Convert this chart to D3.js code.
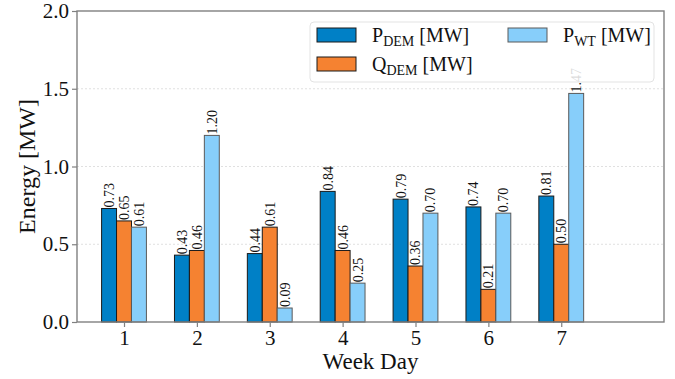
<!DOCTYPE html>
<html>
<head>
<meta charset="utf-8">
<script src="https://cdn.jsdelivr.net/npm/d3@7"></script>
<style>
  body { margin: 0; background: #fff; }
  svg { display: block; font-family: "Liberation Serif", "Times New Roman", serif; }
</style>
</head>
<body>
<svg id="chart" width="675" height="379"></svg>
<script>
// Daily energy per week day
const days = [1, 2, 3, 4, 5, 6, 7];
const pDem = [0.73, 0.43, 0.44, 0.84, 0.79, 0.74, 0.81];
const qDem = [0.65, 0.46, 0.61, 0.46, 0.36, 0.21, 0.50];
const pWt  = [0.61, 1.20, 0.09, 0.25, 0.70, 0.70, 1.47];
const yTicks = [0.0, 0.5, 1.0, 1.5, 2.0];

const series = [
  { key: "pDem", values: pDem, fill: "#0080C6", stroke: "#1a1a1a", main: "P", sub: "DEM" },
  { key: "qDem", values: qDem, fill: "#F58231", stroke: "#1a1a1a", main: "Q", sub: "DEM" },
  { key: "pWt",  values: pWt,  fill: "#87CEFA", stroke: "#5a5a5a", main: "P", sub: "WT" }
];

const svg = d3.select("#chart");
const margin = { left: 77, right: 11, top: 11, bottom: 57 };
const W = 675, H = 379;
const x0 = margin.left, x1 = W - margin.right;
const y0 = H - margin.bottom, y1 = margin.top;

const x = d3.scaleLinear().domain([0.355, 8.41]).range([x0, x1]);
const y = d3.scaleLinear().domain([0, 2]).range([y0, y1]);
const barW = 0.205;

// grid
svg.append("g").selectAll("line")
  .data(yTicks.filter(t => t > 0 && t < 2))
  .join("line")
  .attr("x1", x0).attr("x2", x1)
  .attr("y1", d => y(d)).attr("y2", d => y(d))
  .attr("stroke", "#d8d8d8").attr("stroke-width", 0.8)
  .attr("stroke-dasharray", "2,2");

// bars
series.forEach((s, i) => {
  const off = (i - 1) * barW;
  const g = svg.append("g");
  g.selectAll("rect").data(s.values).join("rect")
    .attr("x", (d, j) => x(days[j] + off - barW / 2))
    .attr("y", d => y(d))
    .attr("width", (d, j) => x(days[j] + off + barW / 2) - x(days[j] + off - barW / 2))
    .attr("height", d => y(0) - y(d))
    .attr("fill", s.fill)
    .attr("stroke", s.stroke)
    .attr("stroke-width", 1);
  g.selectAll("text").data(s.values).join("text")
    .attr("transform", (d, j) => `translate(${x(days[j] + off) + 5},${y(d) - 1}) rotate(-90)`)
    .attr("font-size", 14)
    .attr("fill", "#111")
    .text(d => d.toFixed(2));
});

// axes
const xAxis = d3.axisBottom(x).tickValues(days).tickFormat(d3.format("d")).tickSize(5).tickPadding(3);
const yAxis = d3.axisLeft(y).tickValues(yTicks).tickFormat(d3.format(".1f")).tickSize(5).tickPadding(3);

const gx = svg.append("g").attr("transform", `translate(0,${y0})`).call(xAxis);
const gy = svg.append("g").attr("transform", `translate(${x0},0)`).call(yAxis);
[gx, gy].forEach(g => {
  g.select(".domain").remove();
  g.selectAll(".tick line").attr("stroke", "#808080").attr("stroke-width", 1.2);
  g.selectAll(".tick text").attr("font-family", "Liberation Serif, serif").attr("font-size", 21).attr("fill", "#111");
});

// frame
svg.append("rect")
  .attr("x", x0).attr("y", y1)
  .attr("width", x1 - x0).attr("height", y0 - y1)
  .attr("fill", "none").attr("stroke", "#808080").attr("stroke-width", 1.4);

// axis titles
svg.append("text")
  .attr("x", (x0 + x1) / 2).attr("y", 369)
  .attr("text-anchor", "middle").attr("font-size", 23).attr("fill", "#111")
  .text("Week Day");
svg.append("text")
  .attr("transform", `translate(35,${(y0 + y1) / 2}) rotate(-90)`)
  .attr("text-anchor", "middle").attr("font-size", 24).attr("fill", "#111")
  .text("Energy [MW]");

// legend
const lg = svg.append("g");
lg.append("rect")
  .attr("x", 310).attr("y", 22).attr("width", 344).attr("height", 60)
  .attr("rx", 4).attr("fill", "rgba(255,255,255,0.85)")
  .attr("stroke", "#e3e3e3").attr("stroke-width", 1);
const legendPos = [
  { px: 317, py: 28 },
  { px: 317, py: 57 },
  { px: 508, py: 28 }
];
series.forEach((s, i) => {
  const p = legendPos[i];
  lg.append("rect")
    .attr("x", p.px).attr("y", p.py).attr("width", 39).attr("height", 14)
    .attr("fill", s.fill).attr("stroke", s.stroke).attr("stroke-width", 1);
  const t = lg.append("text")
    .attr("x", p.px + 55).attr("y", p.py + 14)
    .attr("font-size", 20).attr("fill", "#111");
  t.append("tspan").text(s.main);
  t.append("tspan").attr("font-size", 14).attr("dy", 4).text(s.sub);
  t.append("tspan").attr("dy", -4).text(" [MW]");
});
</script>
</body>
</html>
